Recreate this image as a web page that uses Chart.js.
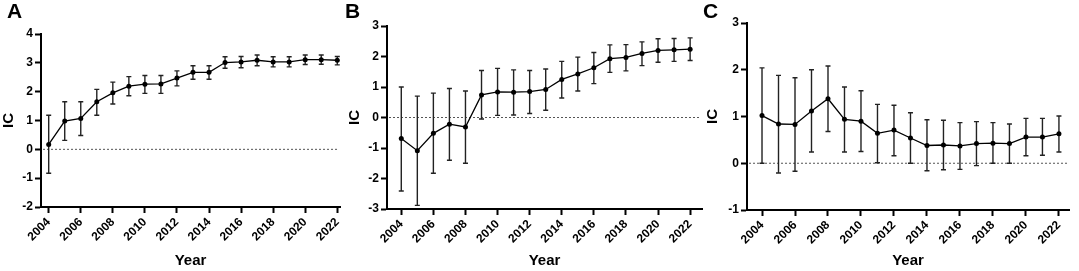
<!DOCTYPE html>
<html>
<head>
<meta charset="utf-8">
<script src="https://cdn.jsdelivr.net/npm/chart.js@4.4.0/dist/chart.umd.min.js"></script>
<style>
  html, body { margin: 0; padding: 0; background: #fff; }
  body { width: 1079px; height: 271px; position: relative; overflow: hidden; }
  .panel { position: absolute; top: 0; height: 271px; }
  .letter { position: absolute; top: 0; font: bold 21px/1 Arial, "Liberation Sans", sans-serif; color: #000; }
</style>
</head>
<body>
<div class="panel" style="left:0;width:345px"><canvas id="chartA"></canvas></div>
<div class="panel" style="left:346px;width:360px"><canvas id="chartB"></canvas></div>
<div class="panel" style="left:704px;width:375px"><canvas id="chartC"></canvas></div>
<div class="letter" style="left:7px">A</div>
<div class="letter" style="left:345px">B</div>
<div class="letter" style="left:703px">C</div>
<script>
const years = [2004, 2005, 2006, 2007, 2008, 2009, 2010, 2011, 2012, 2013,
               2014, 2015, 2016, 2017, 2018, 2019, 2020, 2021, 2022];
const tickYears = [2004, 2006, 2008, 2010, 2012, 2014, 2016, 2018, 2020, 2022];

// panel A
const icA   = [0.17, 0.98, 1.07, 1.65, 1.96, 2.19, 2.26, 2.27, 2.47, 2.67, 2.67, 3.01, 3.03, 3.09, 3.03, 3.03, 3.11, 3.11, 3.09];
const lowA  = [-0.83, 0.31, 0.48, 1.18, 1.57, 1.86, 1.94, 1.94, 2.20, 2.43, 2.43, 2.81, 2.83, 2.90, 2.86, 2.86, 2.94, 2.95, 2.93];
const highA = [1.18, 1.65, 1.65, 2.08, 2.33, 2.52, 2.56, 2.56, 2.72, 2.90, 2.90, 3.21, 3.22, 3.27, 3.21, 3.21, 3.27, 3.27, 3.22];

// panel B
const icB   = [-0.69, -1.09, -0.52, -0.22, -0.31, 0.74, 0.84, 0.83, 0.85, 0.92, 1.25, 1.43, 1.63, 1.93, 1.97, 2.10, 2.20, 2.22, 2.24];
const lowB  = [-2.41, -2.88, -1.83, -1.40, -1.50, -0.05, 0.07, 0.08, 0.13, 0.24, 0.64, 0.87, 1.11, 1.48, 1.53, 1.70, 1.81, 1.84, 1.87];
const highB = [1.00, 0.70, 0.80, 0.95, 0.87, 1.54, 1.61, 1.56, 1.54, 1.59, 1.84, 1.98, 2.13, 2.38, 2.39, 2.48, 2.58, 2.59, 2.61];

// panel C
const icC   = [1.02, 0.84, 0.83, 1.12, 1.38, 0.94, 0.90, 0.64, 0.71, 0.54, 0.38, 0.39, 0.37, 0.42, 0.43, 0.42, 0.56, 0.56, 0.63];
const lowC  = [0.00, -0.21, -0.17, 0.24, 0.68, 0.24, 0.25, 0.01, 0.16, 0.00, -0.16, -0.14, -0.13, -0.05, 0.00, 0.00, 0.16, 0.17, 0.24];
const highC = [2.04, 1.88, 1.83, 2.00, 2.08, 1.63, 1.55, 1.26, 1.24, 1.08, 0.93, 0.92, 0.87, 0.89, 0.87, 0.84, 0.96, 0.96, 1.01];

Chart.defaults.font.family = 'Arial, "Liberation Sans", sans-serif';
Chart.defaults.color = '#000';

// dotted zero line + error bars, drawn under the line
const errorBars = {
  id: 'errbars',
  beforeDatasetsDraw(chart, args, opts) {
    const { ctx, chartArea, scales: { x, y } } = chart;
    const y0 = y.getPixelForValue(0);
    ctx.save();
    ctx.strokeStyle = '#555';
    ctx.lineWidth = 1;
    ctx.setLineDash([2, 2]);
    ctx.beginPath();
    ctx.moveTo(chartArea.left + 2, y0);
    ctx.lineTo(chartArea.right - 2, y0);
    ctx.stroke();
    ctx.setLineDash([]);
    ctx.strokeStyle = '#222';
    ctx.lineWidth = 1.4;
    years.forEach((yr, i) => {
      const px = x.getPixelForValue(yr);
      const top = y.getPixelForValue(opts.high[i]);
      const bot = y.getPixelForValue(opts.low[i]);
      ctx.beginPath();
      ctx.moveTo(px, top); ctx.lineTo(px, bot);
      ctx.moveTo(px - 2.5, top); ctx.lineTo(px + 2.5, top);
      ctx.moveTo(px - 2.5, bot); ctx.lineTo(px + 2.5, bot);
      ctx.stroke();
    });
    ctx.restore();
  }
};

function makeChart(id, ic, low, high, o) {
  new Chart(document.getElementById(id), {
    type: 'line',
    data: {
      datasets: [{
        data: years.map((yr, i) => ({ x: yr, y: ic[i] })),
        borderColor: '#000',
        borderWidth: 1.3,
        pointRadius: 2.5,
        pointBackgroundColor: '#000',
        pointBorderWidth: 0,
        tension: 0
      }]
    },
    options: {
      responsive: true,
      maintainAspectRatio: false,
      animation: false,
      layout: { padding: { left: 0, top: o.top, right: o.right, bottom: 0 } },
      plugins: {
        legend: { display: false },
        tooltip: { enabled: false },
        errbars: { low: low, high: high }
      },
      scales: {
        x: {
          type: 'linear',
          min: o.xMin,
          max: o.xMax,
          afterBuildTicks: (s) => { s.ticks = tickYears.map(v => ({ value: v })); },
          afterFit: (s) => { s.height = o.xHeight; s.paddingLeft = 0; s.paddingRight = 0; },
          ticks: {
            autoSkip: false,
            minRotation: 45,
            maxRotation: 45,
            padding: 2,
            font: { size: 12, weight: 'bold' },
            callback: (v) => String(v)
          },
          grid: { drawOnChartArea: false, drawTicks: true, tickLength: 6, tickWidth: 2, tickColor: '#000' },
          border: { color: '#000', width: 2 },
          title: { display: true, text: 'Year', font: { size: 15, weight: 'bold' }, padding: { top: 0, bottom: 1 } }
        },
        y: {
          min: o.yMin,
          max: o.yMax,
          afterFit: (s) => { s.width = o.yWidth; s.paddingTop = 0; s.paddingBottom = 0; },
          ticks: { stepSize: 1, padding: 2, font: { size: 12, weight: 'bold' } },
          grid: { drawOnChartArea: false, drawTicks: true, tickLength: 6, tickWidth: 2, tickColor: '#000' },
          border: { color: '#000', width: 2 },
          title: { display: true, text: 'IC', font: { size: 15, weight: 'bold' }, padding: 0 }
        }
      }
    },
    plugins: [errorBars]
  });
}

makeChart('chartA', icA, lowA, highA,
  { yMin: -2, yMax: 4, xMin: 2003.52, xMax: 2022.17, yWidth: 41, xHeight: 64, top: 34, right: 5 });
makeChart('chartB', icB, lowB, highB,
  { yMin: -3, yMax: 3, xMin: 2003.11, xMax: 2022.74, yWidth: 41, xHeight: 62, top: 26, right: 3 });
makeChart('chartC', icC, lowC, highC,
  { yMin: -1, yMax: 3, xMin: 2003.09, xMax: 2022.61, yWidth: 43, xHeight: 61, top: 23, right: 10 });
</script>
</body>
</html>
